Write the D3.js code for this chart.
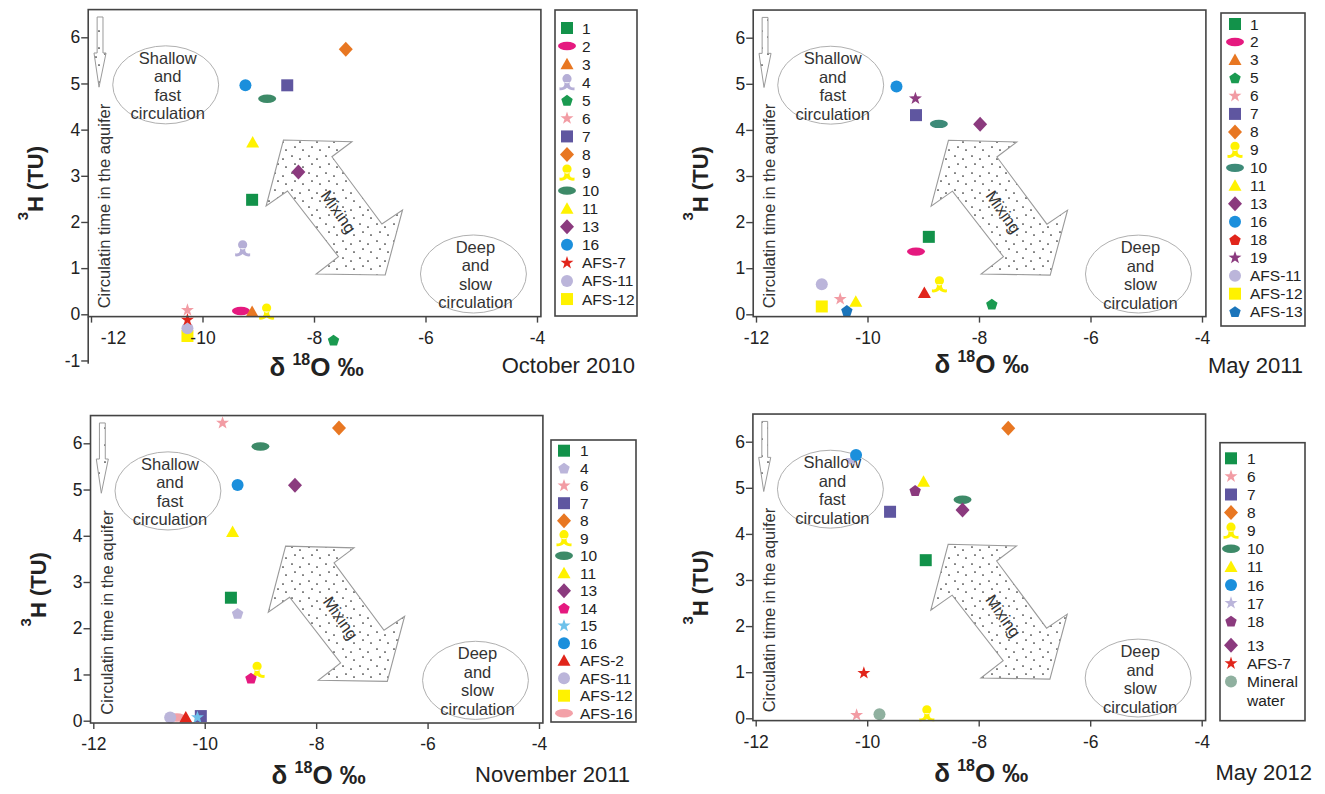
<!DOCTYPE html>
<html><head><meta charset="utf-8">
<script src="https://cdn.jsdelivr.net/npm/d3@7"></script>
<style>body{margin:0;background:#fff}svg{display:block}text{font-family:"Liberation Sans",Arial,sans-serif}</style>
</head><body><svg id="c" width="1325" height="794"></svg>
<script>
// ---------------- data ----------------
const panelTitles = ["October 2010", "May 2011", "November 2011", "May 2012"];
const xTicks = [-12, -10, -8, -6, -4];
const yTicks = [0, 1, 2, 3, 4, 5, 6];
const yTicksOct2010 = [-1, 0, 1, 2, 3, 4, 5, 6];

// legend entries: [label, shape, colour]
const legendOct2010 = [
  ["1","square","#12924a"],["2","ellipse","#e5197f"],["3","triangle","#e87722"],["4","figure","#b5aed6"],
  ["5","pentagon","#1a9a50"],["6","star","#f29ca4"],["7","square","#5f56a0"],["8","diamond","#e87722"],
  ["9","figure","#fff200"],["10","ellipse","#3d8a68"],["11","triangle","#fff200"],["13","diamond","#8b3a7e"],
  ["16","circle","#1b8fdc"],["AFS-7","star","#e1251b"],["AFS-11","circle","#bbb5da"],["AFS-12","square","#fff200"]
];
const legendMay2011 = [
  ["1","square","#12924a"],["2","ellipse","#e5197f"],["3","triangle","#e87722"],["5","pentagon","#1a9a50"],
  ["6","star","#f29ca4"],["7","square","#5f56a0"],["8","diamond","#e87722"],["9","figure","#fff200"],
  ["10","ellipse","#3d8a78"],["11","triangle","#fff200"],["13","diamond","#8b3a7e"],["16","circle","#1b8fdc"],
  ["18","pentagon","#e1251b"],["19","star","#8b3a7e"],["AFS-11","circle","#bbb5da"],["AFS-12","square","#fff200"],
  ["AFS-13","pentagon","#1b75bb"]
];
const legendNov2011 = [
  ["1","square","#12924a"],["4","pentagon","#bbb5da"],["6","star","#f29ca4"],["7","square","#5f56a0"],
  ["8","diamond","#e87722"],["9","figure","#fff200"],["10","ellipse","#3d8a68"],["11","triangle","#fff200"],
  ["13","diamond","#8b3a7e"],["14","pentagon","#e5197f"],["15","star","#6ec1ea"],["16","circle","#1b8fdc"],
  ["AFS-2","triangle","#e1251b"],["AFS-11","circle","#bbb5da"],["AFS-12","square","#fff200"],["AFS-16","ellipse","#f3a1a8"]
];
const legendMay2012 = [
  ["1","square","#12924a"],["6","star","#f29ca4"],["7","square","#5f56a0"],["8","diamond","#e87722"],
  ["9","figure","#fff200"],["10","ellipse","#3d8a68"],["11","triangle","#fff200"],["16","circle","#1b8fdc"],
  ["17","star","#bbb5da"],["18","pentagon","#8b3a7e"],["13","diamond","#8b3a7e"],["AFS-7","star","#e1251b"],
  ["Mineral water","circle","#8fb09f"]
];

// points: [series, δ18O, 3H, optional shape override]
const pointsOct2010 = [
  ["8",-7.43,5.74],["16",-9.23,4.96],["7",-8.48,4.96],["10",-8.84,4.67],["11",-9.10,3.72],
  ["13",-8.28,3.08],["1",-9.11,2.48],["4",-9.28,1.43],["2",-9.31,0.07],["3",-9.11,0.05],
  ["9",-8.85,0.06],["AFS-12",-10.27,-0.47],["AFS-11",-10.27,-0.30],["AFS-7",-10.27,-0.12],
  ["6",-10.27,0.09],["5",-7.65,-0.56]
];
const pointsMay2011 = [
  ["16",-9.48,4.94],["19",-9.14,4.68],["7",-9.13,4.32],["10",-8.72,4.13],["13",-7.98,4.12],
  ["1",-8.90,1.68],["2",-9.13,1.36],["9",-8.71,0.65],["18",-8.98,0.46,"triangle"],["5",-7.77,0.22],
  ["AFS-11",-10.82,0.65],["AFS-12",-10.82,0.17],["6",-10.49,0.33],["11",-10.21,0.27],["AFS-13",-10.37,0.08]
];
const pointsNov2011 = [
  ["6",-9.68,6.44],["8",-7.59,6.33],["10",-9.00,5.93],["16",-9.41,5.10],["13",-8.38,5.09],
  ["11",-9.50,4.08],["1",-9.53,2.66],["4",-9.41,2.32],["9",-9.06,1.10],["14",-9.17,0.92],
  ["AFS-16",-10.50,0.07],["AFS-11",-10.62,0.07],["7",-10.07,0.10],["AFS-2",-10.34,0.07],["15",-10.13,0.07]
];
const pointsMay2012 = [
  ["8",-7.47,6.29],["17",-10.28,5.60],["16",-10.20,5.71],["11",-8.99,5.13],["18",-9.14,4.94],
  ["10",-8.29,4.74],["13",-8.29,4.52],["7",-9.59,4.48],["1",-8.95,3.43],["AFS-7",-10.06,0.98],
  ["6",-10.19,0.07],["Mineral water",-9.78,0.09],["9",-8.93,0.11]
];

// annotation shapes in data units
const mixingArrow = [[-8.548,3.775],[-7.320,3.738],[-7.679,3.413],[-6.782,1.956],[-6.412,2.259],
  [-6.723,0.851],[-7.961,0.873],[-7.561,1.248],[-8.476,2.671],[-8.859,2.346]];
const timeArrow = [[-11.89,6.44],[-11.785,6.44],[-11.785,5.66],[-11.73,5.66],[-11.856,4.92],[-11.946,5.66],[-11.89,5.66]];
const shallowLines = ["Shallow","and","fast","circulation"];
const deepLines = ["Deep","and","slow","circulation"];

// ---------------- layout ----------------
const layouts = [
  {x0:91, x1:537, yz:314.3, y6:37.3, leg:[555,10,637,316], legFirst:28, legStep:18.07, gapAt:-1, symX:567, txtX:582, xlabY:376, date:[635,373], ext:true},
  {x0:756, x1:1202, yz:314.3, y6:37.7, leg:[1221,13,1305,326], legFirst:24, legStep:17.98, gapAt:-1, symX:1235, txtX:1250, xlabY:373, date:[1303,373]},
  {x0:93.3, x1:539, yz:720.7, y6:443.3, leg:[551,440,636,722], legFirst:450.7, legStep:17.5, gapAt:-1, symX:564, txtX:580, xlabY:784, date:[630,782]},
  {x0:755.7, x1:1201.7, yz:718.3, y6:441.7, leg:[1220,442.7,1305,720.7], legFirst:458.3, legStep:18.1, gapAt:10, symX:1231, txtX:1247, xlabY:782, date:[1312,780]}
];
const panelData = [
  {legend:legendOct2010, points:pointsOct2010, yt:yTicksOct2010},
  {legend:legendMay2011, points:pointsMay2011, yt:yTicks},
  {legend:legendNov2011, points:pointsNov2011, yt:yTicks},
  {legend:legendMay2012, points:pointsMay2012, yt:yTicks}
];

// ---------------- drawing ----------------
const svg = d3.select("#c");
const defs = svg.append("defs");
const pat = defs.append("pattern").attr("id","dots").attr("patternUnits","userSpaceOnUse").attr("width",17).attr("height",17);
pat.append("rect").attr("width",17).attr("height",17).attr("fill","#fff");
[[3,3],[11,6],[6,11],[14,14]].forEach(([cx,cy]) => pat.append("circle").attr("cx",cx).attr("cy",cy).attr("r",0.85).attr("fill","#222"));

function starPath(R, r){
  let p = [];
  for (let i = 0; i < 10; i++){
    const a = -Math.PI/2 + i*Math.PI/5, rr = i%2 ? r : R;
    p.push([rr*Math.cos(a), rr*Math.sin(a)]);
  }
  return "M" + p.map(d => d[0].toFixed(2)+","+d[1].toFixed(2)).join("L") + "Z";
}
function polyPath(R, n){
  let p = [];
  for (let i = 0; i < n; i++){
    const a = -Math.PI/2 + i*2*Math.PI/n;
    p.push([R*Math.cos(a), R*Math.sin(a)+0.5]);
  }
  return "M" + p.map(d => d[0].toFixed(2)+","+d[1].toFixed(2)).join("L") + "Z";
}
function shapePath(s){
  switch(s){
    case "square": return "M-6,-6H6V6H-6Z";
    case "diamond": return "M0,-7.5L7,0L0,7.5L-7,0Z";
    case "triangle": return "M0,-6.5L6.5,5L-6.5,5Z";
    case "circle": return d3.symbol(d3.symbolCircle, Math.PI*36)();
    case "star": return starPath(6.8, 2.7);
    case "pentagon": return polyPath(6, 5);
    case "ellipse": return "M-9,0A9,4.2 0 1,0 9,0A9,4.2 0 1,0 -9,0Z";
    case "figure": return "M-4.6,-3.5A4.6,4.6 0 1,0 4.6,-3.5A4.6,4.6 0 1,0 -4.6,-3.5Z" +
      "M-2.6,0L2.6,0L2.6,2.5C3.5,5.5 5.5,5.5 7.5,5L7.5,8C4.5,8.5 1.8,7.2 0,5.6C-1.8,7.2 -4.5,8.5 -7.5,8L-7.5,5C-5.5,5.5 -3.5,5.5 -2.6,2.5Z";
  }
}

panelData.forEach((pd, pi) => {
  const L = layouts[pi];
  const g = svg.append("g");
  const x = d3.scaleLinear().domain([-12,-4]).range([L.x0, L.x1]);
  const y = d3.scaleLinear().domain([0,6]).range([L.yz, L.y6]);
  const fl = x(-12.05), fr = x(-3.93), ft = y(6.6), fb = y(-0.05);
  const style = new Map(pd.legend.map(d => [d[0], {shape:d[1], color:d[2]}]));
  const line = d3.line().x(d => x(d[0])).y(d => y(d[1]));

  // annotations
  const ellG = g.append("g");
  [[-10.66,4.97,shallowLines],[-5.14,0.873,deepLines]].forEach(([cx,cy,lines]) => {
    ellG.append("ellipse").attr("cx",x(cx)).attr("cy",y(cy))
      .attr("rx",x(cx+0.95)-x(cx)).attr("ry",y(cy)-y(cy+0.845))
      .attr("fill","none").attr("stroke","#b0b0b0").attr("stroke-width",1);
    const t = ellG.append("text").attr("text-anchor","middle").attr("font-size",16.5).attr("fill","#333");
    lines.forEach((s,i) => t.append("tspan").attr("x",x(cx)+2).attr("y",y(cy)-21+18.5*i).text(s));
  });
  g.append("path").attr("d", line(mixingArrow)+"Z").attr("fill","url(#dots)")
    .attr("stroke","#9a9a9a").attr("stroke-width",1.1);
  g.append("text").attr("transform",`translate(${x(-7.56)},${y(2.22)}) rotate(55)`)
    .attr("text-anchor","middle").attr("dy","0.35em").attr("font-size",16.5).attr("fill","#333").text("Mixing");
  g.append("path").attr("d", line(timeArrow)+"Z").attr("fill","url(#dots)")
    .attr("stroke","#9a9a9a").attr("stroke-width",1);
  g.append("text").attr("transform",`translate(${fl+22},${y(0.13)}) rotate(-90)`)
    .attr("font-size",16.5).attr("fill","#333").text("Circulatin time in the aquifer");

  // points
  g.append("g").selectAll("path").data(pd.points).join("path")
    .attr("transform", d => `translate(${x(d[1])},${y(d[2])})`)
    .attr("d", d => shapePath(d[3] || style.get(d[0]).shape))
    .attr("fill", d => style.get(d[0]).color);

  // frame and axes
  g.append("rect").attr("x",fl).attr("y",ft).attr("width",fr-fl).attr("height",fb-ft)
    .attr("fill","none").attr("stroke","#444").attr("stroke-width",1.6);
  if (L.ext) g.append("line").attr("x1",fl).attr("x2",fl).attr("y1",fb).attr("y2",y(-1.07))
    .attr("stroke","#444").attr("stroke-width",1.6);

  const ax = g.append("g").attr("transform",`translate(0,${fb})`)
    .call(d3.axisBottom(x).tickValues(xTicks).tickSize(6).tickPadding(9).tickFormat(d => String(d)));
  const ay = g.append("g").attr("transform",`translate(${fl},0)`)
    .call(d3.axisLeft(y).tickValues(pd.yt).tickSize(7).tickPadding(1).tickFormat(d => String(d)));
  [ax, ay].forEach(a => {
    a.select(".domain").remove();
    a.attr("font-family",null).attr("font-size",null);
    a.selectAll("line").attr("stroke","#444").attr("stroke-width",1.4);
    a.selectAll("text").attr("font-size",17.5).attr("fill","#222");
  });
  if (L.ext) ax.selectAll("text").filter(d => d === -12).attr("dx", 22);

  // axis titles
  const cx = (fl+fr)/2 + 2;
  const xl = g.append("text").attr("x",cx).attr("y",L.xlabY).attr("text-anchor","middle")
    .attr("font-weight","bold").attr("font-size",26).attr("fill","#222");
  xl.append("tspan").text("δ ");
  xl.append("tspan").attr("font-size",16).attr("dy",-11).text("18");
  xl.append("tspan").attr("dy",11).text("O ‰");
  const yl = g.append("text").attr("transform",`translate(${fl-45},${(ft+fb)/2+20}) rotate(-90)`)
    .attr("text-anchor","middle").attr("font-weight","bold").attr("font-size",22).attr("fill","#222");
  yl.append("tspan").attr("font-size",15).attr("dy",-15).text("3");
  yl.append("tspan").attr("dy",15).text("H (TU)");

  g.append("text").attr("x",L.date[0]).attr("y",L.date[1]).attr("text-anchor","end")
    .attr("font-size",22).attr("fill","#222").text(panelTitles[pi]);

  // legend
  const [lx0,ly0,lx1,ly1] = L.leg;
  g.append("rect").attr("x",lx0).attr("y",ly0).attr("width",lx1-lx0).attr("height",ly1-ly0)
    .attr("fill","#fff").attr("stroke","#444").attr("stroke-width",1.6);
  pd.legend.forEach((d,i) => {
    const cy = L.legFirst + i*L.legStep + (L.gapAt >= 0 && i >= L.gapAt ? 6 : 0);
    g.append("path").attr("transform",`translate(${L.symX},${cy})`).attr("d",shapePath(d[1])).attr("fill",d[2]);
    const words = d[0].split(" ");
    const t = g.append("text").attr("font-size",15.5).attr("fill","#222");
    words.forEach((w,k) => t.append("tspan").attr("x",L.txtX).attr("y",cy+5.5+k*19).text(w));
  });
});
</script>
</body></html>
